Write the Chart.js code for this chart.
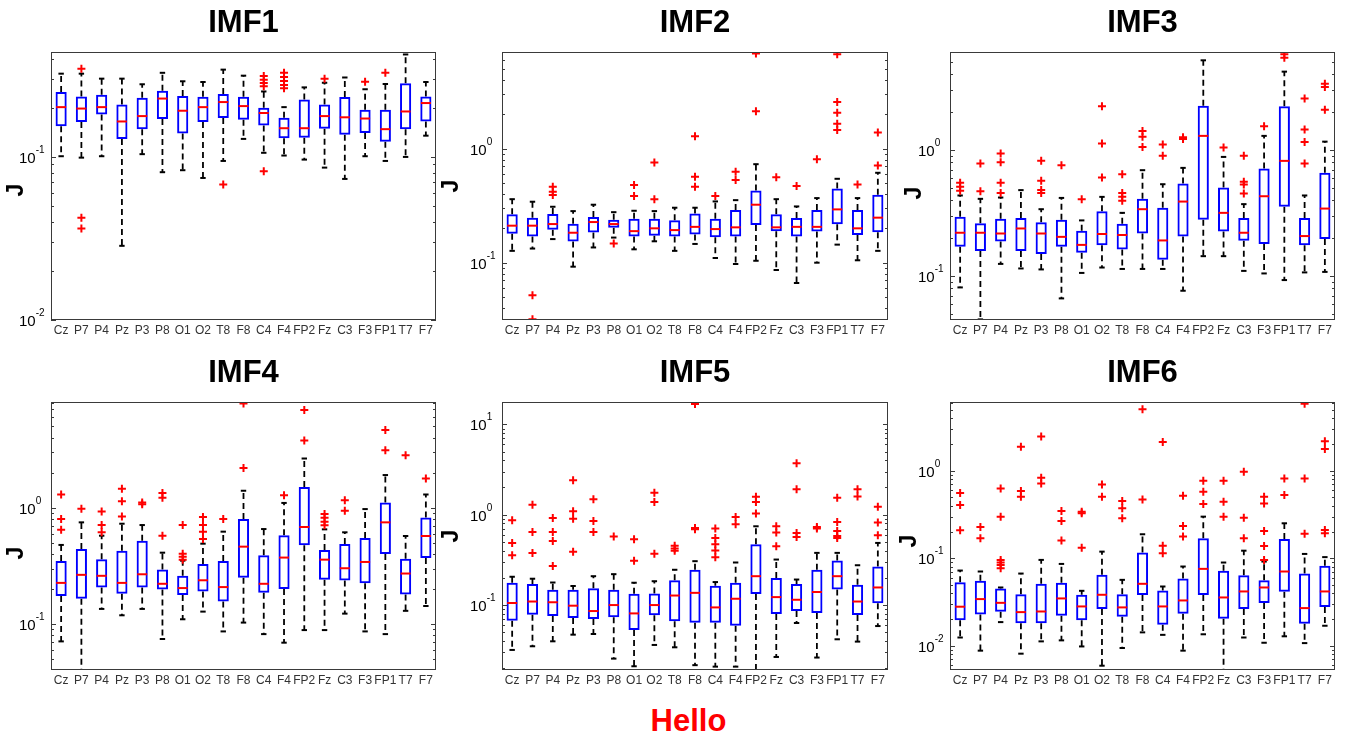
<!DOCTYPE html>
<html>
<head>
<meta charset="utf-8">
<script src="https://cdn.jsdelivr.net/npm/chart.js@4.4.0/dist/chart.umd.min.js"></script>
<style>
  body { margin: 0; background: #fff; }
  #wrap { position: relative; width: 1345px; height: 738px; overflow: hidden; background: #fff; }
  #wrap canvas { position: absolute; }
  #hello { position: absolute; left: 0; width: 1377px; top: 705px; text-align: center;
           font: bold 31px "Liberation Sans", Arial, sans-serif; line-height: 31px; color: #f00; }
</style>
</head>
<body>
<div id="wrap">
  <div id="hello">Hello</div>
</div>
<script>
const channels = ['Cz','P7','P4','Pz','P3','P8','O1','O2','T8','F8','C4','F4','FP2','Fz','C3','F3','FP1','T7','F7'];

// y-axis limits per panel (log scale)
const yMin = [0.01, 0.0315, 0.0448, 0.0403, 0.019, 0.00527];
const yMax = [0.44, 7.0, 6.03, 8.11, 17.7, 6.12];

// IMF1
const imf1Hi  = [0.324,0.324,0.302,0.302,0.279,0.328,0.291,0.288,0.343,0.315,0.252,0.202,0.267,0.285,0.307,0.260,0.280,0.425,0.288];
const imf1Q3  = [0.250,0.235,0.241,0.210,0.231,0.255,0.236,0.234,0.243,0.234,0.200,0.174,0.225,0.210,0.233,0.195,0.195,0.283,0.235];
const imf1Med = [0.202,0.198,0.202,0.165,0.178,0.228,0.192,0.202,0.217,0.205,0.186,0.150,0.150,0.178,0.175,0.172,0.148,0.190,0.214];
const imf1Q1  = [0.154,0.164,0.182,0.129,0.148,0.171,0.139,0.164,0.173,0.169,0.156,0.130,0.131,0.149,0.137,0.140,0.124,0.148,0.165];
const imf1Lo  = [0.101,0.099,0.101,0.0285,0.104,0.0806,0.0829,0.0743,0.0945,0.129,0.106,0.102,0.0963,0.086,0.0733,0.101,0.0945,0.100,0.135];
const imf1Out = [[],[0.347,0.0423,0.0364],[],[],[],[],[],[],[0.0677],[],[0.313,0.297,0.284,0.271,0.0817],
                 [0.328,0.309,0.292,0.276,0.264],[],[0.302],[],[0.289],[0.328],[],[]];

// IMF2
const imf2Hi  = [0.360,0.342,0.309,0.283,0.322,0.277,0.285,0.283,0.303,0.303,0.344,0.353,0.729,0.360,0.311,0.368,0.543,0.368,0.613];
const imf2Q3  = [0.265,0.248,0.267,0.219,0.251,0.238,0.243,0.243,0.235,0.270,0.243,0.289,0.429,0.265,0.246,0.289,0.447,0.289,0.393];
const imf2Med = [0.211,0.211,0.218,0.183,0.227,0.218,0.189,0.200,0.193,0.206,0.197,0.204,0.322,0.204,0.206,0.206,0.293,0.200,0.248];
const imf2Q1  = [0.179,0.170,0.194,0.153,0.184,0.202,0.170,0.172,0.170,0.177,0.167,0.170,0.214,0.189,0.170,0.188,0.217,0.175,0.185];
const imf2Lo  = [0.127,0.133,0.161,0.0923,0.136,0.166,0.131,0.154,0.127,0.146,0.110,0.0974,0.104,0.0863,0.0664,0.100,0.144,0.105,0.127];
const imf2Out = [[],[0.0518,0.0319],[0.462,0.418,0.391],[],[],[0.147],[0.478,0.383],[0.755,0.360],[],[1.28,0.565,0.462],
                 [0.383],[0.625,0.529],[6.78,2.12],[0.561],[0.469],[0.807],[6.68,2.56,2.06,1.65,1.45],[0.485],[1.38,0.710]];

// IMF3
const imf3Hi  = [0.437,0.411,0.421,0.482,0.340,0.418,0.277,0.426,0.318,0.694,0.537,0.724,5.18,0.885,0.373,1.30,4.21,0.437,1.17];
const imf3Q3  = [0.296,0.263,0.285,0.290,0.268,0.280,0.229,0.328,0.260,0.411,0.349,0.544,2.26,0.505,0.290,0.715,2.24,0.290,0.661];
const imf3Med = [0.221,0.221,0.218,0.239,0.218,0.205,0.177,0.216,0.212,0.340,0.192,0.391,1.30,0.318,0.221,0.431,0.823,0.208,0.344];
const imf3Q1  = [0.171,0.158,0.188,0.158,0.150,0.171,0.153,0.176,0.163,0.218,0.135,0.206,0.280,0.226,0.191,0.180,0.355,0.176,0.197];
const imf3Lo  = [0.0813,0.0453,0.125,0.115,0.113,0.0665,0.106,0.117,0.114,0.114,0.114,0.0765,0.144,0.144,0.110,0.105,0.093,0.107,0.108];
const imf3Out = [[0.551,0.512,0.476],[0.784,0.473],[0.941,0.803,0.551,0.458],[],[0.823,0.571,0.482,0.458],[0.760],[0.408],
                 [2.24,1.13,0.607],[0.645,0.458,0.426,0.396],[1.42,1.28,1.06],[1.11,0.902],[1.27,1.23],[],[1.05],
                 [0.902,0.561,0.534,0.453],[1.55],[5.78,5.44],[2.57,1.46,1.16,0.784],[3.38,3.18,2.10]];

// IMF4
const imf4Hi  = [0.479,0.749,0.575,0.729,0.710,0.411,0.351,0.491,0.623,1.40,0.656,1.10,2.65,0.652,0.615,0.974,1.91,0.572,1.30];
const imf4Q3  = [0.349,0.442,0.361,0.428,0.521,0.294,0.260,0.329,0.349,0.800,0.390,0.579,1.51,0.434,0.489,0.550,1.11,0.365,0.826];
const imf4Med = [0.226,0.265,0.260,0.226,0.268,0.222,0.204,0.238,0.208,0.463,0.222,0.373,0.683,0.358,0.302,0.342,0.749,0.272,0.572];
const imf4Q1  = [0.174,0.165,0.206,0.182,0.206,0.198,0.178,0.191,0.156,0.250,0.186,0.200,0.475,0.241,0.237,0.224,0.401,0.180,0.370];
const imf4Lo  = [0.071,0.039,0.135,0.119,0.135,0.0744,0.110,0.128,0.0865,0.103,0.082,0.0692,0.0888,0.0888,0.123,0.0865,0.082,0.130,0.143];
const imf4Out = [[1.30,0.800,0.648],[0.98],[0.93,0.71,0.615],[1.46,1.14,0.843],[1.11,1.07],[1.34,1.22,0.575],
                 [0.71,0.403,0.380,0.358],[0.832,0.71,0.623,0.539],[0.80],[7.89,2.20],[],[1.28],[6.92,3.78],
                 [0.883,0.821,0.759,0.706],[1.16,0.943],[],[4.66,3.12],[2.83],[1.78]];

// IMF5
const imf5Hi  = [0.205,0.195,0.177,0.162,0.208,0.219,0.176,0.183,0.245,0.305,0.179,0.295,0.743,0.318,0.191,0.377,0.377,0.275,0.486];
const imf5Q3  = [0.176,0.170,0.147,0.147,0.153,0.147,0.133,0.134,0.187,0.245,0.163,0.176,0.470,0.198,0.170,0.245,0.310,0.167,0.266];
const imf5Med = [0.105,0.109,0.107,0.098,0.0855,0.0996,0.0805,0.0996,0.127,0.136,0.0938,0.117,0.208,0.122,0.114,0.139,0.208,0.109,0.156];
const imf5Q1  = [0.0668,0.0779,0.0753,0.0715,0.0698,0.0728,0.0527,0.0766,0.0657,0.0635,0.0635,0.0588,0.132,0.0792,0.0855,0.0812,0.148,0.0772,0.104];
const imf5Lo  = [0.0317,0.0348,0.0395,0.0468,0.0476,0.0254,0.0209,0.036,0.0339,0.0215,0.0207,0.0207,0.0185,0.0265,0.063,0.0261,0.0416,0.0392,0.0583];
const imf5Out = [[0.866,0.486,0.355],[1.29,0.643,0.377],[0.919,0.643,0.512,0.269],[2.40,1.09,0.903,0.387],[1.48,0.851,0.643],
                 [0.571],[0.534,0.308],[1.75,1.38,0.368],[0.451,0.421,0.397],[16.8,0.712,0.689],[0.700,0.552,0.470,0.400,0.338],
                 [0.942,0.782],[1.58,1.38,1.03],[0.743,0.633,0.447],[3.72,1.91,0.627,0.566],[0.731,0.70],
                 [1.54,0.830,0.660,0.581,0.552],[1.91,1.59],[1.22,0.816,0.591]];

// IMF6
const imf6Hi  = [0.0723,0.0705,0.0463,0.0668,0.0957,0.0861,0.0424,0.119,0.0566,0.188,0.0475,0.0804,0.299,0.0893,0.122,0.0916,0.251,0.112,0.103];
const imf6Q3  = [0.0532,0.0551,0.0451,0.0388,0.0510,0.0523,0.0382,0.0646,0.0388,0.116,0.0428,0.0586,0.169,0.0717,0.064,0.0561,0.166,0.0668,0.0818];
const imf6Med = [0.0279,0.0341,0.0309,0.0242,0.0246,0.0347,0.0281,0.0382,0.0274,0.051,0.0281,0.0329,0.0756,0.0356,0.0417,0.0463,0.0705,0.0269,0.0417];
const imf6Q1  = [0.0195,0.0228,0.0244,0.0181,0.0181,0.022,0.0195,0.0262,0.0214,0.0379,0.0174,0.0232,0.0379,0.0203,0.0262,0.0307,0.0413,0.0178,0.0276];
const imf6Lo  = [0.0124,0.00877,0.0186,0.0081,0.0112,0.0115,0.0098,0.0059,0.0094,0.0142,0.0133,0.00877,0.0135,0.0052,0.0124,0.0108,0.0128,0.0107,0.0169];
const imf6Out = [[0.556,0.406,0.209],[0.228,0.169],[0.629,0.299,0.0957,0.0893,0.0839,0.0769],[1.88,0.586,0.505],[2.46,0.832,0.717],
                 [0.347,0.267,0.159],[0.340,0.326,0.132],[0.698,0.505],[0.451,0.372,0.286],[5.05,0.471],[2.14,0.139,0.114],
                 [0.519,0.234,0.177],[0.769,0.576,0.417],[0.769,0.443,0.299],[0.974,0.291,0.169],[0.505,0.424,0.205,0.138,0.0957],
                 [0.818,0.528],[5.86,0.818,0.191],[2.18,1.77,0.211,0.193]];

const FONT = '"Liberation Sans", Arial, Helvetica, sans-serif';
const plotLeft = [51, 502, 950];
const plotRight = [437, 889, 1336];

const panels = [
  { title: 'IMF1', hi: imf1Hi, q3: imf1Q3, med: imf1Med, q1: imf1Q1, lo: imf1Lo, out: imf1Out, col: 0, row: 0, jdx: -34, jy: 190 },
  { title: 'IMF2', hi: imf2Hi, q3: imf2Q3, med: imf2Med, q1: imf2Q1, lo: imf2Lo, out: imf2Out, col: 1, row: 0, jdx: -50, jy: 186 },
  { title: 'IMF3', hi: imf3Hi, q3: imf3Q3, med: imf3Med, q1: imf3Q1, lo: imf3Lo, out: imf3Out, col: 2, row: 0, jdx: -35, jy: 193 },
  { title: 'IMF4', hi: imf4Hi, q3: imf4Q3, med: imf4Med, q1: imf4Q1, lo: imf4Lo, out: imf4Out, col: 0, row: 1, jdx: -34, jy: 203 },
  { title: 'IMF5', hi: imf5Hi, q3: imf5Q3, med: imf5Med, q1: imf5Q1, lo: imf5Lo, out: imf5Out, col: 1, row: 1, jdx: -50, jy: 186 },
  { title: 'IMF6', hi: imf6Hi, q3: imf6Q3, med: imf6Med, q1: imf6Q1, lo: imf6Lo, out: imf6Out, col: 2, row: 1, jdx: -40, jy: 191 }
];

// frame, inward log ticks, "10^k" labels and the rotated J label
const axesFrame = {
  id: 'axesFrame',
  afterDraw(chart, args, opts) {
    const { ctx, chartArea: a } = chart;
    const y = chart.scales.y;
    ctx.save();
    ctx.strokeStyle = '#3a3a3a';
    ctx.lineWidth = 1;
    ctx.strokeRect(a.left + 0.5, a.top + 0.5, a.right - a.left - 1, a.bottom - a.top - 1);

    const k0 = Math.floor(Math.log10(y.min));
    const k1 = Math.ceil(Math.log10(y.max));
    for (let k = k0; k <= k1; k++) {
      for (let m = 1; m <= 9; m++) {
        const v = m * Math.pow(10, k);
        if (v < y.min * 0.999 || v > y.max * 1.001) continue;
        const py = Math.round(y.getPixelForValue(v)) + 0.5;
        const len = m === 1 ? 5 : 3;
        ctx.beginPath();
        ctx.moveTo(a.left, py); ctx.lineTo(a.left + len, py);
        ctx.moveTo(a.right, py); ctx.lineTo(a.right - len, py);
        ctx.stroke();
        if (m === 1) {
          const x = a.left - 32;
          ctx.fillStyle = '#000';
          ctx.textAlign = 'left';
          ctx.textBaseline = 'middle';
          ctx.font = '15px ' + FONT;
          ctx.fillText('10', x, py + 1);
          const w = ctx.measureText('10').width;
          ctx.font = '10px ' + FONT;
          ctx.fillText(String(k), x + w, py - 7);
        }
      }
    }

    ctx.translate(a.left + opts.jdx, opts.jy);
    ctx.rotate(-Math.PI / 2);
    ctx.fillStyle = '#000';
    ctx.font = 'bold 23px ' + FONT;
    ctx.textAlign = 'center';
    ctx.textBaseline = 'middle';
    ctx.fillText('J', 0, 0);
    ctx.restore();
  }
};

const wrap = document.getElementById('wrap');

panels.forEach((p, n) => {
  const left = plotLeft[p.col] - 66;
  const width = plotRight[p.col] - plotLeft[p.col] + 72;
  const canvas = document.createElement('canvas');
  canvas.width = width;
  canvas.height = 345;
  canvas.style.left = left + 'px';
  canvas.style.top = (p.row * 350) + 'px';
  canvas.style.width = width + 'px';
  canvas.style.height = '345px';
  wrap.appendChild(canvas);

  const boxes = channels.map((c, i) => [p.q1[i], p.q3[i]]);
  const whiskers = [];
  const caps = [];
  const medians = [];
  const outliers = [];
  channels.forEach((c, i) => {
    whiskers.push({ x: c, y: p.q3[i] }, { x: c, y: p.hi[i] }, { x: c, y: null },
                  { x: c, y: p.q1[i] }, { x: c, y: p.lo[i] }, { x: c, y: null });
    caps.push({ x: c, y: p.hi[i] }, { x: c, y: p.lo[i] });
    medians.push({ x: c, y: p.med[i] });
    p.out[i].forEach(v => outliers.push({ x: c, y: v }));
  });

  new Chart(canvas.getContext('2d'), {
    type: 'bar',
    data: {
      labels: channels,
      datasets: [{
        type: 'line',
        data: outliers,
        showLine: false,
        pointStyle: 'cross',
        pointRadius: 4,
        pointBorderWidth: 2,
        borderColor: '#ff0000',
        pointBorderColor: '#ff0000',
        order: 0
      }, {
        type: 'line',
        data: medians,
        showLine: false,
        pointStyle: 'line',
        pointRadius: 5,
        pointBorderWidth: 2,
        borderColor: '#ff0000',
        pointBorderColor: '#ff0000',
        order: 1
      }, {
        type: 'bar',
        data: boxes,
        backgroundColor: 'rgba(255,255,255,0)',
        borderColor: '#0000ff',
        borderWidth: 2,
        borderSkipped: false,
        barPercentage: 0.55,
        categoryPercentage: 1,
        order: 2
      }, {
        type: 'line',
        data: caps,
        showLine: false,
        pointStyle: 'line',
        pointRadius: 2.7,
        pointBorderWidth: 2,
        borderColor: '#000',
        pointBorderColor: '#000',
        order: 3
      }, {
        type: 'line',
        data: whiskers,
        pointRadius: 0,
        borderColor: '#000',
        borderWidth: 1.8,
        borderDash: [6, 4],
        spanGaps: false,
        fill: false,
        order: 4
      }]
    },
    options: {
      responsive: false,
      animation: false,
      devicePixelRatio: 1,
      events: [],
      layout: { padding: { left: 66, right: 6, top: 0, bottom: 0 } },
      plugins: {
        legend: { display: false },
        tooltip: { enabled: false },
        title: {
          display: true,
          text: p.title,
          fullSize: false,
          color: '#000',
          font: { family: FONT, size: 31, weight: 'bold' },
          padding: { top: 4.7, bottom: 10.1 }
        },
        axesFrame: { jdx: p.jdx, jy: p.jy }
      },
      scales: {
        x: {
          type: 'category',
          offset: true,
          grid: { display: false, drawTicks: false },
          border: { display: false },
          ticks: {
            color: '#333',
            font: { family: FONT, size: 12 },
            padding: 3,
            autoSkip: false,
            maxRotation: 0,
            minRotation: 0
          },
          afterFit(scale) { scale.height = 25; }
        },
        y: {
          type: 'logarithmic',
          display: false,
          min: yMin[n],
          max: yMax[n]
        }
      }
    },
    plugins: [axesFrame]
  });
});
</script>
</body>
</html>
